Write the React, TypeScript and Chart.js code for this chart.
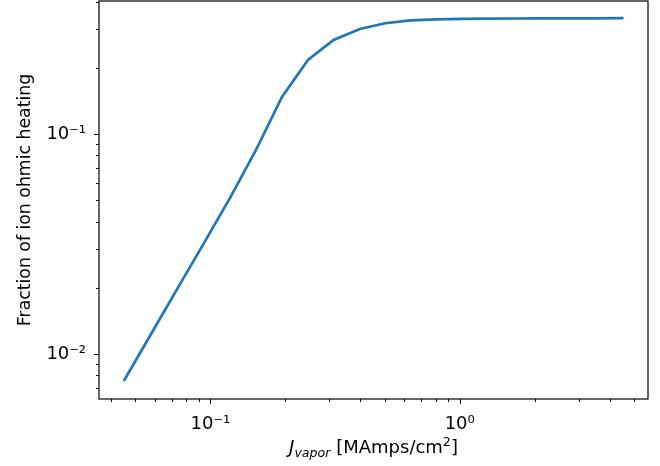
import React, { useEffect, useRef } from 'react';
import { Chart, registerables } from 'chart.js';

Chart.register(...registerables);

// Data (log-log)
const jVapor = [0.045, 0.0589, 0.0749, 0.0952, 0.12, 0.1525, 0.1938, 0.2464, 0.312, 0.398, 0.502, 0.635, 0.807, 1.02, 1.3, 1.65, 2.1, 2.67, 3.36, 4.54];
const ionFraction = [0.00754, 0.01275, 0.0204, 0.0325, 0.0512, 0.0846, 0.1473, 0.217, 0.2675, 0.3, 0.3186, 0.3287, 0.3322, 0.3336, 0.3343, 0.335, 0.3354, 0.3357, 0.3357, 0.3361];

const xMajorTicks = [0.1, 1];
const xMinorTicks = [0.04, 0.05, 0.06, 0.07, 0.08, 0.09, 0.2, 0.3, 0.4, 0.5, 0.6, 0.7, 0.8, 0.9, 2, 3, 4, 5];
const yMajorTicks = [0.01, 0.1];
const yMinorTicks = [0.007, 0.008, 0.009, 0.02, 0.03, 0.04, 0.05, 0.06, 0.07, 0.08, 0.09, 0.2, 0.3, 0.4];

const xRange = [0.03579, 5.689];
const yRange = [0.006245, 0.40224];

const yTitle = 'Fraction of ion ohmic heating';
const FONT = '"DejaVu Sans", sans-serif';

const sup: Record<string, string> = { '-': '⁻', '0': '⁰', '1': '¹', '2': '²', '3': '³' };
function powLabel(v: number): string {
  const e = Math.round(Math.log10(v));
  return '10' + String(e).split('').map((c) => sup[c] || c).join('');
}

const decorPlugin = {
  id: 'decor',
  afterDraw(chart: any) {
    const { ctx, chartArea: a, scales } = chart;
    const xs = scales.x;
    const ys = scales.y;
    ctx.save();
    ctx.strokeStyle = '#000';
    ctx.lineWidth = 1;
    const xt = (v: number, len: number) => {
      const p = Math.round(xs.getPixelForValue(v)) + 0.5;
      ctx.beginPath();
      ctx.moveTo(p, a.bottom);
      ctx.lineTo(p, a.bottom + len);
      ctx.stroke();
    };
    const yt = (v: number, len: number) => {
      const p = Math.round(ys.getPixelForValue(v)) + 0.5;
      ctx.beginPath();
      ctx.moveTo(a.left, p);
      ctx.lineTo(a.left - len, p);
      ctx.stroke();
    };
    xMajorTicks.forEach((v) => xt(v, 5));
    xMinorTicks.forEach((v) => xt(v, 3));
    yMajorTicks.forEach((v) => yt(v, 5));
    yMinorTicks.forEach((v) => yt(v, 3));

    ctx.lineWidth = 1.2;
    ctx.strokeRect(a.left, a.top, a.right - a.left, a.bottom - a.top);

    // y title
    ctx.fillStyle = '#000';
    ctx.save();
    ctx.translate(30, (a.top + a.bottom) / 2);
    ctx.rotate(-Math.PI / 2);
    ctx.font = `17.3px ${FONT}`;
    ctx.textAlign = 'center';
    ctx.textBaseline = 'alphabetic';
    ctx.fillText(yTitle, 0, 0);
    ctx.restore();

    // x title: J_vapor [MAmps/cm^2]
    const big = 18;
    const small = 12.6;
    const parts = [
      { t: 'J', f: `italic ${big}px ${FONT}`, dy: 0 },
      { t: 'vapor', f: `italic ${small}px ${FONT}`, dy: 4 },
      { t: ' [MAmps/cm', f: `${big}px ${FONT}`, dy: 0 },
      { t: '2', f: `${small}px ${FONT}`, dy: -7 },
      { t: ']', f: `${big}px ${FONT}`, dy: 0 },
    ];
    let total = 0;
    parts.forEach((p) => {
      ctx.font = p.f;
      total += ctx.measureText(p.t).width;
    });
    let x = (a.left + a.right) / 2 - total / 2;
    const base = 453;
    ctx.textAlign = 'left';
    ctx.textBaseline = 'alphabetic';
    parts.forEach((p) => {
      ctx.font = p.f;
      ctx.fillText(p.t, x, base + p.dy);
      x += ctx.measureText(p.t).width;
    });
    ctx.restore();
  },
};

export default function App() {
  const ref = useRef<HTMLCanvasElement | null>(null);
  useEffect(() => {
    document.body.style.margin = '0';
    const canvas = ref.current;
    if (!canvas) return;
    const chart = new Chart(canvas, {
      type: 'line',
      data: {
        datasets: [
          {
            data: jVapor.map((x, i) => ({ x, y: ionFraction[i] })),
            borderColor: '#1f77b4',
            borderWidth: 2.7,
            pointRadius: 0,
            fill: false,
            tension: 0,
          },
        ],
      },
      options: {
        animation: false,
        responsive: false,
        devicePixelRatio: 1,
        layout: { padding: { left: 0, right: 12, top: 1, bottom: 0 } },
        plugins: { legend: { display: false }, tooltip: { enabled: false } },
        scales: {
          x: {
            type: 'logarithmic',
            min: xRange[0],
            max: xRange[1],
            afterBuildTicks: (s: any) => {
              s.ticks = xMajorTicks.map((v) => ({ value: v, major: true }));
            },
            afterFit: (s: any) => {
              s.height = 67;
              s.paddingLeft = 0;
              s.paddingRight = 0;
              s.paddingTop = 0;
              s.paddingBottom = 0;
            },
            grid: { display: true, drawOnChartArea: false, drawTicks: true, tickLength: 5, color: 'rgba(0,0,0,0)', tickColor: 'rgba(0,0,0,0)' },
            border: { display: false },
            ticks: {
              autoSkip: false,
              maxRotation: 0,
              padding: 10,
              color: '#000',
              font: { family: FONT, size: 18 },
              callback: (v: any) => powLabel(Number(v)),
            },
          },
          y: {
            type: 'logarithmic',
            min: yRange[0],
            max: yRange[1],
            afterBuildTicks: (s: any) => {
              s.ticks = yMajorTicks.map((v) => ({ value: v, major: true }));
            },
            afterFit: (s: any) => {
              s.width = 99;
              s.paddingLeft = 0;
              s.paddingRight = 0;
              s.paddingTop = 0;
              s.paddingBottom = 0;
            },
            grid: { display: true, drawOnChartArea: false, drawTicks: true, tickLength: 5, color: 'rgba(0,0,0,0)', tickColor: 'rgba(0,0,0,0)' },
            border: { display: false },
            ticks: {
              autoSkip: false,
              padding: 8,
              color: '#000',
              font: { family: FONT, size: 18 },
              callback: (v: any) => powLabel(Number(v)),
            },
          },
        },
      },
      plugins: [decorPlugin],
    });
    return () => chart.destroy();
  }, []);
  return (
    <div style={{ width: 660, height: 466, background: '#fff' }}>
      <canvas ref={ref} width={660} height={466} style={{ width: 660, height: 466, display: 'block' }} />
    </div>
  );
}
